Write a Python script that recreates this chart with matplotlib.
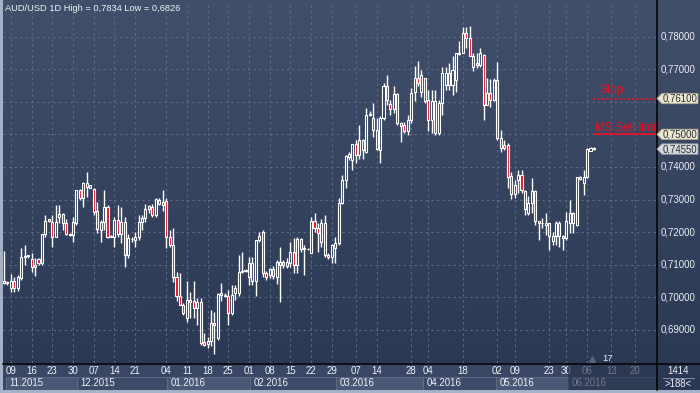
import numpy as np
import matplotlib
matplotlib.use('Agg')
import matplotlib.pyplot as plt
from matplotlib.patches import Rectangle, Polygon
from matplotlib.lines import Line2D
import matplotlib.transforms as mtransforms

plt.rcParams['font.family'] = ['Liberation Sans', 'DejaVu Sans']

# daily candles, AUD/USD
opens = [0.7043, 0.7048, 0.7030, 0.7050, 0.7028, 0.7061, 0.7125, 0.7127, 0.7117, 0.7094,
         0.7117, 0.7104, 0.7193, 0.7234, 0.7232, 0.7186, 0.7247, 0.7255, 0.7227, 0.7191,
         0.7191, 0.7229, 0.7329, 0.7304, 0.7350, 0.7337, 0.7334, 0.7265, 0.7207, 0.7232,
         0.7276, 0.7186, 0.7184, 0.7237, 0.7196, 0.7232, 0.7130, 0.7178, 0.7176, 0.7186,
         0.7230, 0.7243, 0.7280, 0.7278, 0.7253, 0.7299, 0.7294, 0.7297, 0.7186, 0.7161,
         0.7064, 0.7003, 0.6977, 0.6936, 0.6987, 0.6989, 0.6967, 0.6987, 0.6862, 0.6856,
         0.6865, 0.6921, 0.6875, 0.7008, 0.7008, 0.7005, 0.6952, 0.7013, 0.7013, 0.7079,
         0.7082, 0.7107, 0.7049, 0.7049, 0.7176, 0.7202, 0.7074, 0.7069, 0.7087, 0.7064,
         0.7100, 0.7110, 0.7097, 0.7105, 0.7140, 0.7099, 0.7178, 0.7150, 0.7147, 0.7137,
         0.7234, 0.7214, 0.7171, 0.7229, 0.7130, 0.7125, 0.7150, 0.7166, 0.7291, 0.7360,
         0.7431, 0.7421, 0.7470, 0.7436, 0.7484, 0.7447, 0.7561, 0.7549, 0.7515, 0.7452,
         0.7549, 0.7649, 0.7593, 0.7578, 0.7624, 0.7534, 0.7529, 0.7511, 0.7544, 0.7631,
         0.7672, 0.7682, 0.7672, 0.7606, 0.7544, 0.7601, 0.7504, 0.7596, 0.7652, 0.7687,
         0.7652, 0.7667, 0.7746, 0.7749, 0.7812, 0.7795, 0.7739, 0.7718, 0.7713, 0.7744,
         0.7590, 0.7628, 0.7606, 0.7667, 0.7488, 0.7468, 0.7467, 0.7372, 0.7317, 0.7360,
         0.7376, 0.7325, 0.7258, 0.7289, 0.7327, 0.7233, 0.7228, 0.7222, 0.7227, 0.7172,
         0.7187, 0.7227, 0.7182, 0.7182, 0.7228, 0.7258, 0.7222, 0.7363, 0.7350, 0.7369,
         0.7450, 0.7458]
highs = [0.7142, 0.7050, 0.7072, 0.7063, 0.7070, 0.7153, 0.7161, 0.7130, 0.7135, 0.7120,
         0.7120, 0.7196, 0.7253, 0.7242, 0.7253, 0.7283, 0.7283, 0.7258, 0.7240, 0.7198,
         0.7248, 0.7329, 0.7331, 0.7355, 0.7386, 0.7346, 0.7336, 0.7294, 0.7237, 0.7329,
         0.7283, 0.7191, 0.7248, 0.7283, 0.7278, 0.7248, 0.7196, 0.7186, 0.7202, 0.7253,
         0.7253, 0.7285, 0.7283, 0.7288, 0.7304, 0.7304, 0.7329, 0.7304, 0.7207, 0.7212,
         0.7079, 0.7074, 0.6982, 0.7049, 0.7018, 0.7049, 0.6997, 0.6997, 0.6890, 0.6880,
         0.6962, 0.6955, 0.7013, 0.7044, 0.7013, 0.7023, 0.7038, 0.7038, 0.7130, 0.7140,
         0.7087, 0.7125, 0.7125, 0.7176, 0.7200, 0.7207, 0.7082, 0.7090, 0.7095, 0.7115,
         0.7156, 0.7115, 0.7120, 0.7171, 0.7181, 0.7186, 0.7181, 0.7160, 0.7150, 0.7247,
         0.7258, 0.7229, 0.7242, 0.7254, 0.7135, 0.7165, 0.7186, 0.7304, 0.7375, 0.7436,
         0.7445, 0.7472, 0.7484, 0.7528, 0.7487, 0.7582, 0.7572, 0.7595, 0.7549, 0.7556,
         0.7657, 0.7682, 0.7606, 0.7647, 0.7628, 0.7539, 0.7539, 0.7560, 0.7641, 0.7711,
         0.7725, 0.7698, 0.7674, 0.7636, 0.7636, 0.7636, 0.7606, 0.7708, 0.7708, 0.7718,
         0.7739, 0.7751, 0.7785, 0.7829, 0.7829, 0.7834, 0.7751, 0.7751, 0.7764, 0.7746,
         0.7672, 0.7669, 0.7672, 0.7723, 0.7514, 0.7483, 0.7474, 0.7385, 0.7360, 0.7391,
         0.7391, 0.7330, 0.7310, 0.7365, 0.7330, 0.7235, 0.7243, 0.7258, 0.7228, 0.7202,
         0.7233, 0.7233, 0.7192, 0.7263, 0.7299, 0.7263, 0.7369, 0.7372, 0.7391, 0.7459,
         0.7460, 0.7462]
lows = [0.7040, 0.7038, 0.7018, 0.7018, 0.7020, 0.7053, 0.7099, 0.7122, 0.7079, 0.7066,
        0.7100, 0.7099, 0.7185, 0.7232, 0.7156, 0.7184, 0.7227, 0.7207, 0.7191, 0.7189,
        0.7171, 0.7222, 0.7299, 0.7278, 0.7309, 0.7335, 0.7253, 0.7197, 0.7171, 0.7207,
        0.7181, 0.7184, 0.7156, 0.7186, 0.7166, 0.7094, 0.7120, 0.7171, 0.7154, 0.7176,
        0.7207, 0.7232, 0.7258, 0.7248, 0.7248, 0.7283, 0.7265, 0.7151, 0.7156, 0.7048,
        0.6990, 0.6977, 0.6946, 0.6926, 0.6936, 0.6936, 0.6916, 0.6854, 0.6850, 0.6845,
        0.6850, 0.6826, 0.6870, 0.6990, 0.7000, 0.6916, 0.6945, 0.6992, 0.7003, 0.7074,
        0.7077, 0.7038, 0.7038, 0.7003, 0.7170, 0.7064, 0.7054, 0.7060, 0.7055, 0.7040,
        0.6985, 0.7090, 0.7090, 0.7094, 0.7074, 0.7074, 0.7140, 0.7069, 0.7145, 0.7135,
        0.7202, 0.7140, 0.7155, 0.7125, 0.7118, 0.7104, 0.7104, 0.7160, 0.7288, 0.7337,
        0.7421, 0.7390, 0.7411, 0.7426, 0.7426, 0.7444, 0.7556, 0.7493, 0.7452, 0.7413,
        0.7545, 0.7590, 0.7560, 0.7565, 0.7529, 0.7476, 0.7504, 0.7498, 0.7534, 0.7601,
        0.7647, 0.7616, 0.7596, 0.7509, 0.7504, 0.7498, 0.7498, 0.7560, 0.7636, 0.7636,
        0.7621, 0.7631, 0.7744, 0.7749, 0.7764, 0.7739, 0.7693, 0.7703, 0.7708, 0.7544,
        0.7590, 0.7585, 0.7601, 0.7483, 0.7447, 0.7452, 0.7337, 0.7301, 0.7304, 0.7320,
        0.7320, 0.7253, 0.7253, 0.7258, 0.7222, 0.7176, 0.7212, 0.7192, 0.7146, 0.7161,
        0.7161, 0.7156, 0.7146, 0.7176, 0.7197, 0.7197, 0.7218, 0.7360, 0.7315, 0.7365,
        0.7448, 0.7452]
closes = [0.7050, 0.7043, 0.7050, 0.7028, 0.7064, 0.7125, 0.7127, 0.7127, 0.7094, 0.7100,
          0.7107, 0.7193, 0.7234, 0.7240, 0.7186, 0.7232, 0.7255, 0.7227, 0.7193, 0.7196,
          0.7232, 0.7329, 0.7304, 0.7350, 0.7340, 0.7344, 0.7263, 0.7209, 0.7232, 0.7276,
          0.7186, 0.7188, 0.7237, 0.7196, 0.7232, 0.7130, 0.7181, 0.7178, 0.7186, 0.7232,
          0.7245, 0.7270, 0.7270, 0.7253, 0.7301, 0.7288, 0.7283, 0.7186, 0.7161, 0.7064,
          0.7003, 0.6977, 0.6951, 0.6992, 0.6992, 0.6967, 0.6987, 0.6860, 0.6854, 0.6865,
          0.6921, 0.6914, 0.7010, 0.7013, 0.7003, 0.6952, 0.7008, 0.7028, 0.7079, 0.7082,
          0.7084, 0.7064, 0.7105, 0.7176, 0.7187, 0.7074, 0.7064, 0.7087, 0.7066, 0.7108,
          0.7110, 0.7100, 0.7110, 0.7140, 0.7099, 0.7178, 0.7147, 0.7147, 0.7147, 0.7234,
          0.7214, 0.7198, 0.7229, 0.7130, 0.7123, 0.7160, 0.7166, 0.7291, 0.7360, 0.7433,
          0.7441, 0.7470, 0.7436, 0.7484, 0.7452, 0.7561, 0.7564, 0.7513, 0.7454, 0.7551,
          0.7649, 0.7604, 0.7577, 0.7624, 0.7534, 0.7527, 0.7511, 0.7544, 0.7626, 0.7672,
          0.7657, 0.7631, 0.7601, 0.7544, 0.7601, 0.7504, 0.7596, 0.7687, 0.7687, 0.7652,
          0.7698, 0.7751, 0.7751, 0.7812, 0.7795, 0.7739, 0.7708, 0.7713, 0.7751, 0.7590,
          0.7628, 0.7606, 0.7667, 0.7488, 0.7458, 0.7458, 0.7370, 0.7317, 0.7345, 0.7376,
          0.7330, 0.7270, 0.7289, 0.7325, 0.7233, 0.7228, 0.7227, 0.7227, 0.7187, 0.7187,
          0.7227, 0.7187, 0.7187, 0.7233, 0.7258, 0.7228, 0.7369, 0.7369, 0.7369, 0.7455,
          0.7458, 0.7455]

# weekly date labels and the candle they sit on
week_labels = ['09', '16', '23', '30', '07', '14', '21', '04', '11', '18', '25', '01', '08',
               '15', '22', '29', '07', '14', '28', '04', '18', '02', '09', '23', '30',
               '06', '13', '20']
week_idx = [2, 8, 14, 20, 26, 32, 38, 47, 53, 59, 65, 71, 77, 83, 89, 95, 102, 108, 118,
            123, 133, 143, 148, 158, 163, 169, 176, 183]
months = ['11.2015', '12.2015', '01.2016', '02.2016', '03.2016', '04.2016', '05.2016', '06.2016']
month_start = [0.6, 21.2, 47.2, 71.3, 96.2, 121.4, 142.6, 163.6]
price_ticks = [0.69, 0.70, 0.71, 0.72, 0.73, 0.74, 0.75, 0.77, 0.78]
stop_level = 0.761
limit_level = 0.750
last_price = 0.7455
title = 'AUD/USD 1D High = 0,7834 Low = 0,6826'

W, H = 700, 393
RED = '#ee1020'
TXT = '#eef1f6'

fig = plt.figure(figsize=(W / 100, H / 100), dpi=100)

# background gradient over the whole picture
bg = fig.add_axes([0, 0, 1, 1])
top = np.array([66, 79, 107]) / 255
bot = np.array([42, 55, 83]) / 255
t = np.linspace(0, 1, 256)[:, None, None]
grad = top * (1 - t) + bot * t
bg.imshow(np.repeat(grad, 2, axis=1), aspect='auto', extent=[0, 1, 0, 1])
bg.set_xlim(0, 1)
bg.set_ylim(0, 1)
bg.axis('off')

x0, x1 = (3 - 4) / 3.45, (656 - 4) / 3.45
y0 = 0.69 + (330 - 363) / 3260
y1 = 0.69 + (330 - 2) / 3260

ax = fig.add_axes([3 / W, (H - 363) / H, 653 / W, 361 / H])
ax.patch.set_alpha(0)
ax.set_xlim(x0, x1)
ax.set_ylim(y0, y1)
for s in ax.spines.values():
    s.set_visible(False)
ax.set_xticks([])
ax.set_yticks([])

grid_kw = dict(color='#5c6986', lw=0.8, linestyle=(0, (2.2, 2.8)), zorder=1)
ax.hlines(price_ticks + [0.76], x0, x1, **grid_kw)
ax.vlines(week_idx, y0, y1, **grid_kw)

o = np.array(opens)
h = np.array(highs)
l = np.array(lows)
c = np.array(closes)
idx = np.arange(len(o))
up = c >= o
lo = np.minimum(o, c)
hh = np.maximum(np.abs(c - o), 0.00018)

ax.vlines(idx, l, h, color='white', lw=1.0, zorder=3)
ax.bar(idx, hh, 0.6, bottom=lo, color=np.where(up, '#35425f', RED),
       edgecolor='white', linewidth=0.8, zorder=4)

# order lines
ax.hlines(stop_level, 170.7, x1, color=RED, lw=1.3, linestyle=(0, (1.2, 1.2)), zorder=5)
ax.hlines(limit_level, 170.7, x1, color=RED, lw=1.3, zorder=5)
ax.text(172.6, 0.7637, 'Stop', color=RED, fontsize=8.6, va='center', ha='left')
ax.text(171.2, 0.7521, 'MS Sell-limit', color=RED, fontsize=8.3, va='center', ha='left')

# countdown marker
ax.plot([170.4], [0.6811], marker='^', ms=5, color='#56627e', zorder=5, clip_on=False)
ax.text(173.3, 0.6813, '17', color=TXT, fontsize=6.8, va='center', ha='left')

# title
fig.text(5 / W, 1 - 8.5 / H, title, color=TXT, fontsize=6.7, va='center', ha='left')

# right price scale
tr = mtransforms.blended_transform_factory(fig.transFigure, ax.transData)
for p in price_ticks:
    fig.text(661 / W, p, f'{p:.5f}'.replace('.', ','), transform=tr, color=TXT,
             fontsize=6.9, va='center', ha='left')

dy = 5.2 / 3260
for lev, fc, ec in [(stop_level, '#ebe7cf', '#a9a58c'), (limit_level, '#ebe7cf', '#a9a58c'),
                    (last_price, '#d6d8dc', '#9ca0a8')]:
    pts = [(657 / W, lev), (662 / W, lev + dy), (698 / W, lev + dy),
           (698 / W, lev - dy), (662 / W, lev - dy)]
    fig.add_artist(Polygon(pts, closed=True, transform=tr, facecolor=fc, edgecolor=ec,
                           lw=0.6, zorder=6))
    fig.text(662.5 / W, lev, f'{lev:.5f}'.replace('.', ','), transform=tr,
             color='#2b2f38', fontsize=6.9, va='center', ha='left', zorder=7)

# bottom date band
bx = fig.add_axes([3 / W, 3 / H, 653 / W, 27 / H])
bx.set_xlim(x0, x1)
bx.set_ylim(0, 27)
bx.axis('off')
bx.add_patch(Rectangle((x0, 0), x1 - x0, 27, facecolor='#3a4764', edgecolor='none', zorder=0))
ends = month_start[1:] + [x1]
for i, (m, a, b) in enumerate(zip(months, month_start, ends)):
    fc = '#4a5775' if i % 2 == 0 else '#3e4b68'
    bx.add_patch(Rectangle((a, 0.5), b - a, 12.5, facecolor=fc, edgecolor='#5d6a88',
                           lw=0.7, zorder=1))
    bx.text(a + 1.0, 6.5, m, color=TXT, fontsize=6.9, va='center', ha='left', zorder=2)
for lab, k in zip(week_labels, week_idx):
    bx.text(k, 19, lab, color=TXT, fontsize=6.9, va='center', ha='center', zorder=2)
bx.add_patch(Rectangle((163.6, 0), x1 - 163.6, 27, facecolor='#26304a', alpha=0.62,
                       edgecolor='none', zorder=3))

# right bottom box
fig.text(678 / W, 1 - 371 / H, '1414', color=TXT, fontsize=6.9, ha='center', va='center')
fig.add_artist(Line2D([663 / W, 694 / W], [1 - 377.5 / H] * 2, color='#8391aa', lw=0.7))
fig.text(678 / W, 1 - 384 / H, '>188<', color=TXT, fontsize=6.9, ha='center', va='center')

# frame lines and light borders
fig.add_artist(Line2D([656.5 / W] * 2, [3 / H, 1], color='black', lw=1.1))
fig.add_artist(Line2D([3 / W, 1], [1 - 363.5 / H] * 2, color='black', lw=1.1))
fig.add_artist(Rectangle((0, 0), 3 / W, 1, transform=fig.transFigure, facecolor='#a4b1c6',
                         edgecolor='none'))
fig.add_artist(Rectangle((0, 0), 1, 3 / H, transform=fig.transFigure, facecolor='#a4b1c6',
                         edgecolor='none'))

fig.savefig('out.png', dpi=100)
